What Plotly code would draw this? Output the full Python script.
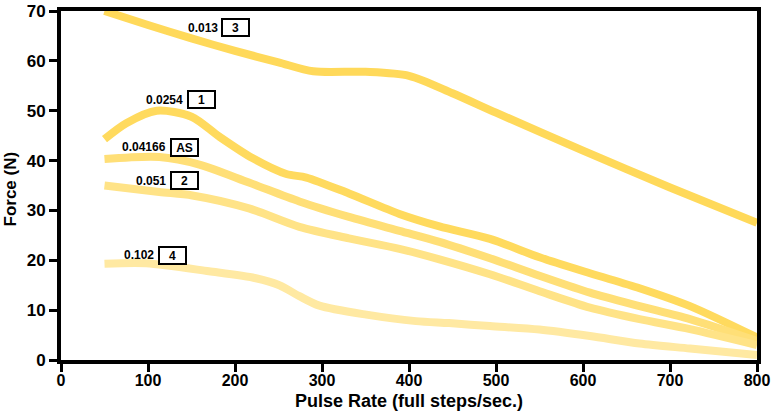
import plotly.graph_objects as go

# Pulse rate (full steps/sec.) and force (N) for each curve
x3 = [50, 100, 150, 200, 250, 290, 350, 400, 450, 500, 600, 700, 800]
y3 = [70, 67.2, 64.5, 62, 59.7, 57.9, 57.8, 57.0, 53.5, 49.6, 42.0, 34.6, 27.5]

x1 = [50, 75, 110, 150, 182, 220, 259, 282, 331, 389, 435, 493, 550, 608, 665, 723, 800]
y1 = [44.3, 47.5, 50.0, 48.8, 44.8, 40.5, 37.3, 36.6, 33.4, 29.3, 26.8, 24.3, 20.6, 17.4, 14.4, 10.8, 4.5]

xas = [50, 113, 159, 216, 274, 331, 389, 435, 493, 550, 608, 665, 723, 800]
yas = [40.3, 40.7, 39.2, 35.6, 31.8, 28.7, 25.9, 23.7, 20.4, 16.9, 13.5, 10.8, 8.2, 3.8]

x2 = [50, 113, 151, 216, 274, 331, 389, 435, 493, 550, 608, 665, 723, 800]
y2 = [35.0, 33.7, 33.0, 30.4, 26.7, 24.4, 22.3, 20.2, 17.2, 13.8, 10.5, 8.2, 6.2, 3.0]

x4 = [50, 98, 170, 224, 251, 274, 297, 351, 408, 446, 493, 550, 608, 665, 723, 800]
y4 = [19.3, 19.4, 17.8, 16.4, 15.0, 12.8, 10.9, 9.1, 7.8, 7.4, 6.8, 6.1, 4.8, 3.3, 2.3, 1.0]

series_names = ["3", "1", "AS", "2", "4"]
series_values = ["0.013", "0.0254", "0.04166", "0.051", "0.102"]
label_box_x = [201, 161, 141.5, 141.5, 128]
label_box_y = [66.6, 52.2, 42.7, 36.0, 21.0]

x_title = "Pulse Rate (full steps/sec.)"
y_title = "Force (N)"

xs = [x3, x1, xas, x2, x4]
ys = [y3, y1, yas, y2, y4]
colors = ["#FFD95A", "#FFDA5E", "#FFDF77", "#FFE387", "#FFE9A2"]

fig = go.Figure()
for x, y, c, n in zip(xs, ys, colors, series_names):
    fig.add_trace(go.Scatter(x=x, y=y, mode="lines", name=n,
                             line=dict(color=c, width=8, shape="spline", smoothing=0.8),
                             hoverinfo="skip"))

font_b = "Liberation Sans, Arial, sans-serif"
for n, v, bx, by in zip(series_names, series_values, label_box_x, label_box_y):
    fig.add_annotation(x=bx, y=by, text="<b>" + n + "</b>", showarrow=False,
                       xanchor="center", yanchor="middle",
                       font=dict(family=font_b, size=12, color="black"),
                       bordercolor="black", borderwidth=2, bgcolor="white",
                       width=23, height=13, borderpad=1)
    fig.add_annotation(x=bx, y=by, text="<b>" + v + "</b>", showarrow=False,
                       xanchor="right", yanchor="middle", xshift=-16,
                       font=dict(family=font_b, size=12, color="black"))

# axis titles
fig.add_annotation(xref="paper", yref="paper", x=0.5, y=0, yshift=-41,
                   xanchor="center", yanchor="middle", showarrow=False,
                   text="<b>" + x_title + "</b>", font=dict(family=font_b, size=18, color="black"))
fig.add_annotation(xref="paper", yref="paper", x=0, y=0.5, xshift=-51, yshift=-4,
                   xanchor="center", yanchor="middle", showarrow=False, textangle=-90,
                   text="<b>" + y_title + "</b>", font=dict(family=font_b, size=17, color="black"))

fig.update_layout(
    width=772, height=412,
    margin=dict(l=61, r=15, t=11, b=52),
    paper_bgcolor="white", plot_bgcolor="white",
    showlegend=False,
    font=dict(family=font_b, color="black"),
)
fig.update_xaxes(range=[0, 800], tickvals=[0, 100, 200, 300, 400, 500, 600, 700, 800],
                 showgrid=False, zeroline=False, showline=True, linewidth=4, linecolor="black",
                 mirror=True, ticks="outside", ticklen=8, tickwidth=3, tickcolor="black",
                 automargin=False, ticklabelstandoff=-5,
                 tickfont=dict(size=16, family=font_b, weight="bold"))
fig.update_yaxes(range=[0, 70], tickvals=[0, 10, 20, 30, 40, 50, 60, 70],
                 showgrid=False, zeroline=False, showline=True, linewidth=4, linecolor="black",
                 mirror=True, ticks="outside", ticklen=8, tickwidth=3, tickcolor="black",
                 automargin=False,
                 tickfont=dict(size=17, family=font_b, weight="bold"))

fig.write_html("out.html", config={"displayModeBar": False},
               post_script="document.body.style.margin='0';")
